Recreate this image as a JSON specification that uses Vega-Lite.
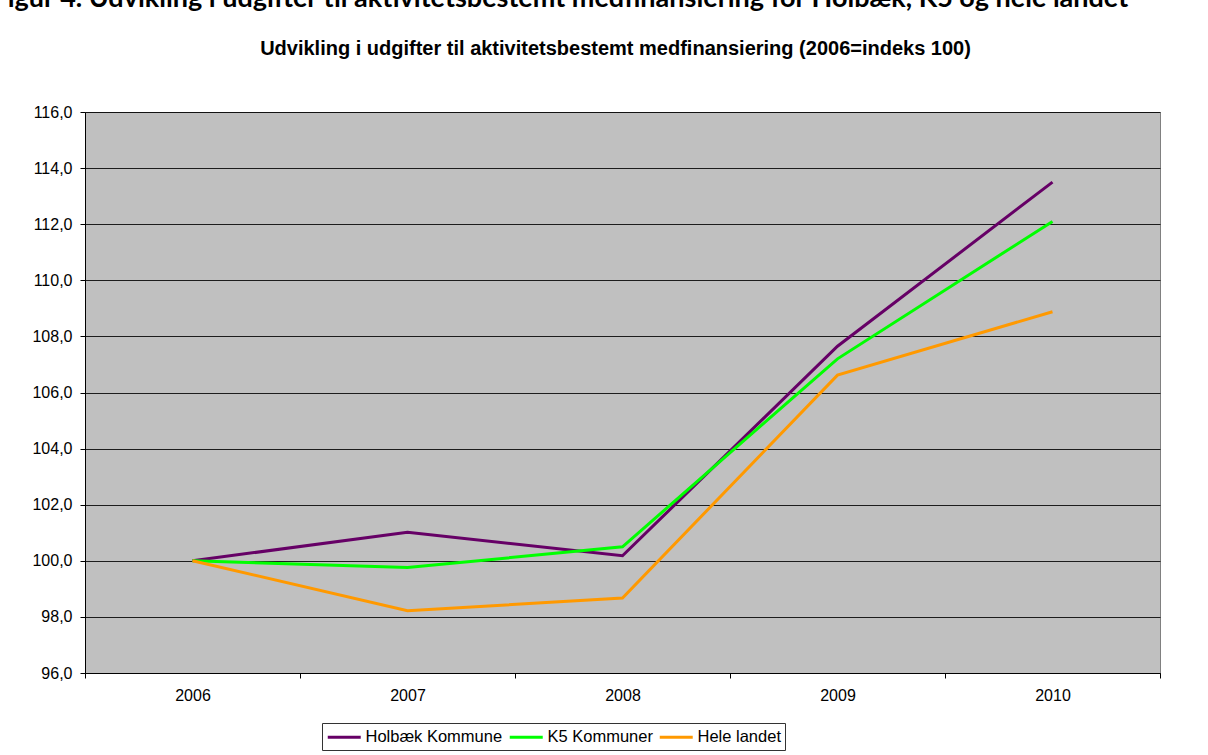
{
  "$schema": "https://vega.github.io/schema/vega-lite/v6.json",
  "autosize": {"type": "none"},
  "width": 1075,
  "height": 561,
  "padding": {"left": 85, "top": 112, "right": 48, "bottom": 82},
  "background": "white",
  "data": {
    "values": [
      {"year": "2006", "series": "Holbæk Kommune", "value": 100.0},
      {"year": "2007", "series": "Holbæk Kommune", "value": 101.02},
      {"year": "2008", "series": "Holbæk Kommune", "value": 100.18},
      {"year": "2009", "series": "Holbæk Kommune", "value": 107.65},
      {"year": "2010", "series": "Holbæk Kommune", "value": 113.5},
      {"year": "2006", "series": "K5 Kommuner", "value": 100.0},
      {"year": "2007", "series": "K5 Kommuner", "value": 99.76},
      {"year": "2008", "series": "K5 Kommuner", "value": 100.5},
      {"year": "2009", "series": "K5 Kommuner", "value": 107.2},
      {"year": "2010", "series": "K5 Kommuner", "value": 112.1},
      {"year": "2006", "series": "Hele landet", "value": 100.0},
      {"year": "2007", "series": "Hele landet", "value": 98.22},
      {"year": "2008", "series": "Hele landet", "value": 98.67},
      {"year": "2009", "series": "Hele landet", "value": 106.62},
      {"year": "2010", "series": "Hele landet", "value": 108.88}
    ]
  },
  "layer": [
    {
      "mark": {"type": "line", "strokeWidth": 3},
      "encoding": {
        "x": {
          "field": "year",
          "type": "ordinal",
          "bandPosition": 0.5,
          "scale": {"type": "band", "paddingInner": 0, "paddingOuter": 0},
          "axis": {
            "orient": "bottom",
            "title": null,
            "tickBand": "extent",
            "tickSize": 5,
            "tickColor": "#000000",
            "domainColor": "#000000",
            "labelAngle": 0,
            "labelPadding": 9,
            "labelFont": "Liberation Sans",
            "labelFontSize": 16,
            "labelColor": "#000000",
            "grid": false
          }
        },
        "y": {
          "field": "value",
          "type": "quantitative",
          "scale": {"domain": [96, 116], "nice": false, "zero": false},
          "axis": {
            "orient": "left",
            "title": null,
            "values": [96, 98, 100, 102, 104, 106, 108, 110, 112, 114, 116],
            "labelExpr": "replace(format(datum.value, '.1f'), '.', ',')",
            "tickSize": 5,
            "tickColor": "#000000",
            "domainColor": "#000000",
            "labelPadding": 8,
            "labelFont": "Liberation Sans",
            "labelFontSize": 16,
            "labelColor": "#000000",
            "grid": true,
            "gridColor": "#000000",
            "gridOpacity": 0.85,
            "gridWidth": 1
          }
        },
        "color": {
          "field": "series",
          "type": "nominal",
          "scale": {
            "domain": ["Holbæk Kommune", "K5 Kommuner", "Hele landet"],
            "range": ["#660066", "#00FF00", "#FF9900"]
          },
          "legend": {
            "orient": "none",
            "legendX": 237,
            "legendY": 611,
            "direction": "horizontal",
            "title": null,
            "symbolType": "M-1,0L3,0",
            "symbolSize": 272,
            "symbolStrokeWidth": 3,
            "labelFont": "Liberation Sans",
            "labelFontSize": 16.5,
            "labelColor": "#000000",
            "labelOffset": 19.5,
            "columnPadding": 0,
            "padding": 4,
            "strokeColor": "#333333",
            "fillColor": "#FFFFFF"
          }
        }
      }
    },
    {
      "mark": {"type": "point", "opacity": 0},
      "encoding": {
        "x": {
          "field": "year",
          "type": "ordinal",
          "axis": {
            "orient": "top",
            "domain": false,
            "ticks": false,
            "labels": false,
            "grid": false,
            "title": "Udvikling i udgifter til aktivitetsbestemt medfinansiering (2006=indeks 100)",
            "titleFont": "Liberation Sans",
            "titleFontSize": 20,
            "titleFontWeight": "bold",
            "titleColor": "#000000",
            "titleX": 530,
            "titleY": -58,
            "titleAlign": "center",
            "titleBaseline": "alphabetic",
            "titleLimit": 2000
          }
        },
        "y": {
          "field": "value",
          "type": "quantitative",
          "axis": {
            "orient": "right",
            "domain": false,
            "ticks": false,
            "labels": false,
            "grid": false,
            "title": "Figur 4. Udvikling i udgifter til aktivitetsbestemt medfinansiering for Holbæk, K5 og hele landet",
            "titleAngle": 0,
            "titleFont": "Lato",
            "titleFontSize": 27,
            "titleFontWeight": "bold",
            "titleColor": "#000000",
            "titleX": -1168,
            "titleY": -106,
            "titleAlign": "left",
            "titleBaseline": "alphabetic",
            "titleLimit": 2000
          }
        }
      }
    }
  ],
  "resolve": {"axis": {"x": "independent", "y": "independent"}},
  "config": {
    "view": {"fill": "#C0C0C0", "stroke": "#808080", "strokeWidth": 1}
  }
}
